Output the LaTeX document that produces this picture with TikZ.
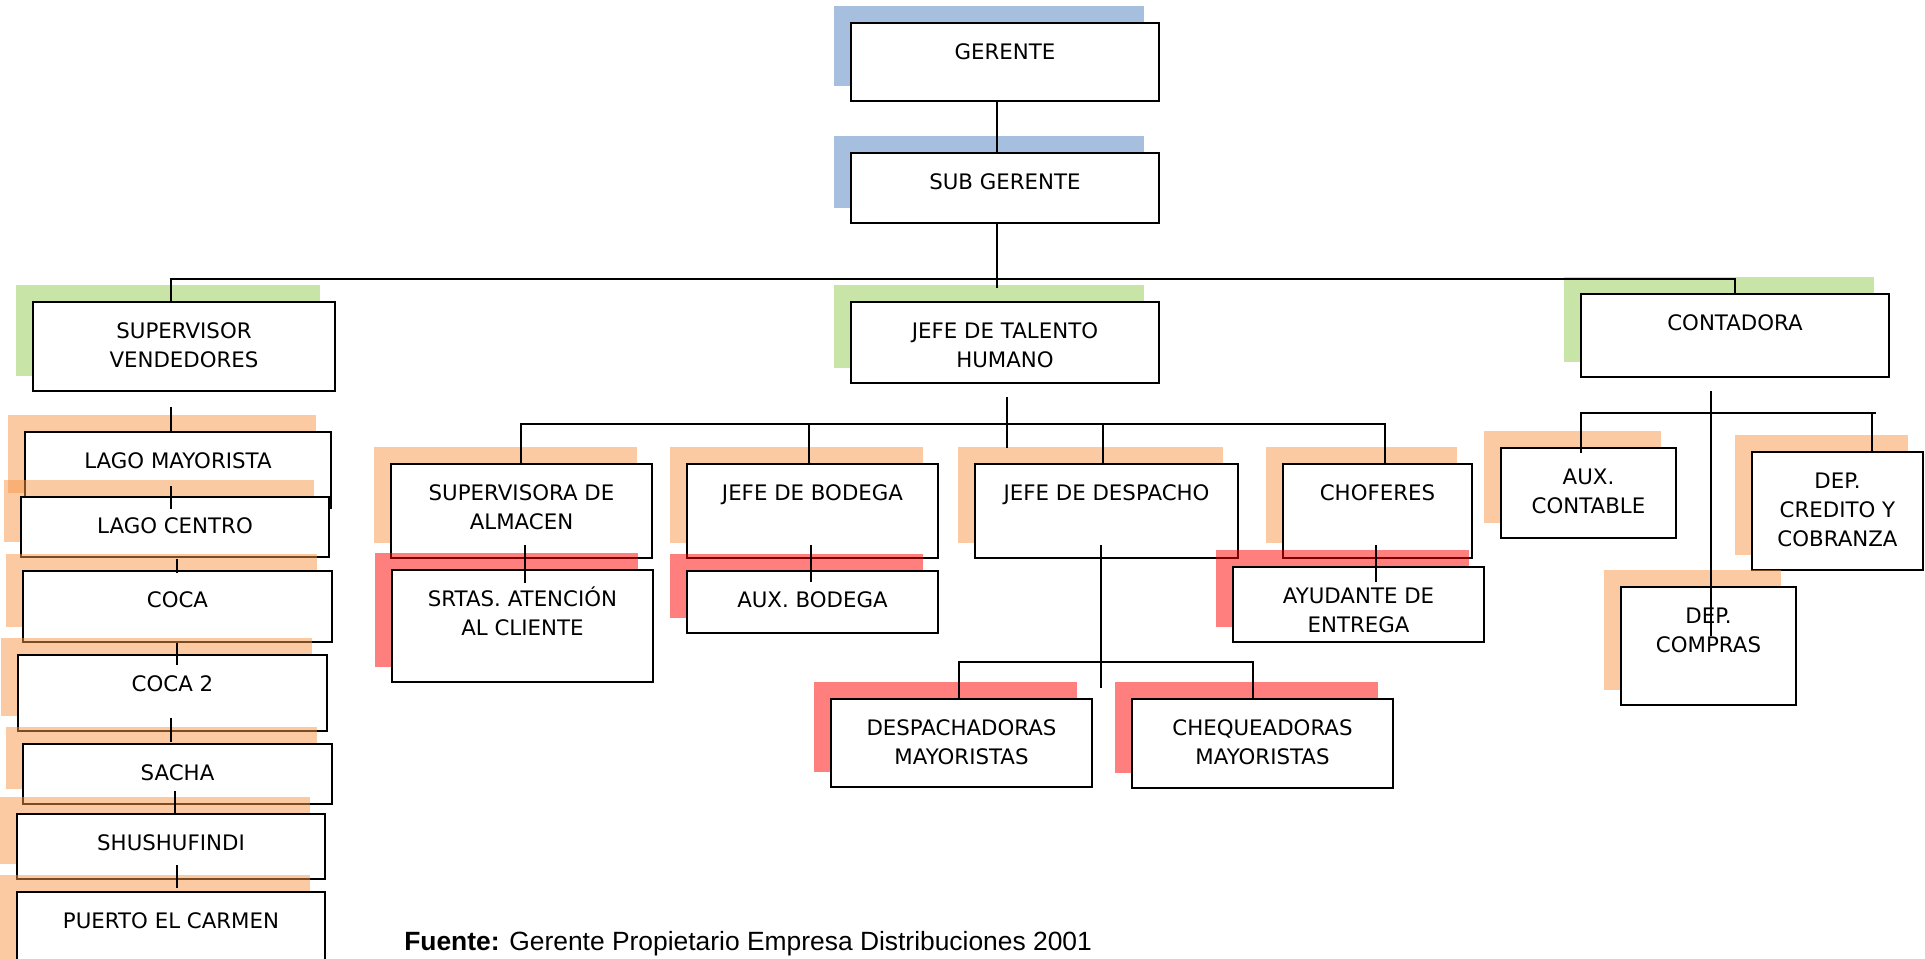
\documentclass[tikz,border=0pt]{standalone}
\usepackage{fontspec}
\setmainfont{DejaVu Sans}
\newfontfamily\arialf{Liberation Sans}
\usetikzlibrary{calc}
\definecolor{shblue}{HTML}{A7BFDE}
\definecolor{shgreen}{HTML}{C8E4A6}
\definecolor{shorange}{HTML}{F79646}
\tikzset{
  bshadow/.style={fill=shblue},
  gshadow/.style={fill=shgreen},
  oshadow/.style={fill=shorange, fill opacity=0.5},
  rshadow/.style={fill=red, fill opacity=0.5},
  orgnode/.style={draw=black, line width=1.5pt, fill=white, inner sep=0pt, outer sep=0pt},
  orglabel/.style={align=center, font=\fontsize{16}{22}\selectfont, inner sep=0pt, anchor=north},
  link/.style={draw=black, line width=1.2pt},
}
\newcommand\orgbox[7]{%
  \fill[#6] ($(#2,#3)+(-17,-17)$) rectangle ($(#4,#5)+(-15,-15)$);
  \node[orgnode, minimum width={(#4-#2)*0.75pt}, minimum height={(#5-#3)*0.75pt}] (#1) at ({(#2+#4)/2},{(#3+#5)/2}) {};
  \node[orglabel] (#1t) at ($(#1.north)+(0,16)$) {\rule{0pt}{15pt}#7};
}
\begin{document}
\begin{tikzpicture}[x=0.75pt,y=-0.75pt]
\useasboundingbox (0,0) rectangle (1925,958);
\clip (0,0) rectangle (1925,958);
% top
\orgbox{g}{851}{23}{1159}{101}{bshadow}{GERENTE}
\orgbox{sg}{851}{153}{1159}{223}{bshadow}{SUB GERENTE}
\orgbox{sv}{33}{302}{335}{391}{gshadow}{SUPERVISOR\\VENDEDORES}
\orgbox{jt}{851}{302}{1159}{383}{gshadow}{JEFE DE TALENTO\\HUMANO}
\orgbox{ct}{1581}{294}{1889}{377}{gshadow}{CONTADORA}
% left column
\orgbox{lm}{25}{432}{331}{508}{oshadow}{LAGO MAYORISTA}
\orgbox{lc}{21}{497}{329}{557}{oshadow}{LAGO CENTRO}
\orgbox{coca}{23}{571}{332}{642}{oshadow}{COCA}
\orgbox{cocb}{18}{655}{327}{731}{oshadow}{COCA 2}
\orgbox{sacha}{23}{744}{332}{804}{oshadow}{SACHA}
\orgbox{shu}{17}{814}{325}{879}{oshadow}{SHUSHUFINDI}
\orgbox{pc}{17}{892}{325}{985}{oshadow}{PUERTO EL CARMEN}
% middle
\orgbox{sa}{391}{464}{652}{558}{oshadow}{SUPERVISORA DE\\ALMACEN}
\orgbox{jb}{687}{464}{938}{558}{oshadow}{JEFE DE BODEGA}
\orgbox{jd}{975}{464}{1238}{558}{oshadow}{JEFE DE DESPACHO}
\orgbox{ch}{1283}{464}{1472}{558}{oshadow}{CHOFERES}
\orgbox{srt}{392}{570}{653}{682}{rshadow}{SRTAS. ATENCIÓN\\AL CLIENTE}
\orgbox{ab}{687}{571}{938}{633}{rshadow}{AUX. BODEGA}
\orgbox{ay}{1233}{567}{1484}{642}{rshadow}{AYUDANTE DE\\ENTREGA}
\orgbox{dm}{831}{699}{1092}{787}{rshadow}{DESPACHADORAS\\MAYORISTAS}
\orgbox{cq}{1132}{699}{1393}{788}{rshadow}{CHEQUEADORAS\\MAYORISTAS}
% right
\orgbox{ac}{1501}{448}{1676}{538}{oshadow}{AUX.\\CONTABLE}
\orgbox{dc}{1752}{452}{1923}{570}{oshadow}{DEP.\\CREDITO Y\\COBRANZA}
\orgbox{dp}{1621}{587}{1796}{705}{oshadow}{DEP.\\COMPRAS}
% junction coordinates
\coordinate (jtop) at (997,279);
\coordinate (jmid) at (1007,424);
\coordinate (jdes) at (1101,662);
\coordinate (jcon) at (1711,413);
% connectors top
\draw[link] (g.south -| jtop) -- (sg.north -| jtop);
\draw[link] (sg.south -| jtop) -- (jtop);
\draw[link] (sv.north -| 171,0) -- (171,279) -- (ct.north |- jtop) -- (ct.north);
\draw[link] (jtop) -- (997,288);
% left column
\draw[link] (171,407) -- (lm.north -| 171,0);
\draw[link] (171,486) -- (171,509);
\draw[link] (177,559) -- (177,573);
\draw[link] (177,643) -- (177,665);
\draw[link] (171,718) -- (171,742);
\draw[link] (175,791) -- (shu.north -| 175,0);
\draw[link] (177,865) -- (177,888);
% middle
\draw[link] (1007,397) -- (1007,448);
\draw[link] (sa.north -| 521,0) -- (521,424) -- (1385,424) -- (ch.north -| 1385,0);
\draw[link] (809,424) -- (jb.north -| 809,0);
\draw[link] (1103,424) -- (jd.north -| 1103,0);
\draw[link] (525,545) -- (525,583);
\draw[link] (811,545) -- (811,582);
\draw[link] (1376,545) -- (1376,582);
\draw[link] (1101,545) -- (1101,688);
\draw[link] (dm.north -| 959,0) -- (959,662) -- (1253,662) -- (cq.north -| 1253,0);
% right
\draw[link] (1711,391) -- (1711,636);
\draw[link] (1581,453) -- (1581,413) -- (1876,413);
\draw[link] (1872,413) -- (dc.north -| 1872,0);
% source
\node[anchor=base west, inner sep=0pt, font=\arialf\fontsize{19.8}{22}\selectfont] (src) at (404,950) {\textbf{Fuente:} Gerente Propietario Empresa Distribuciones 2001};
\end{tikzpicture}
\end{document}
